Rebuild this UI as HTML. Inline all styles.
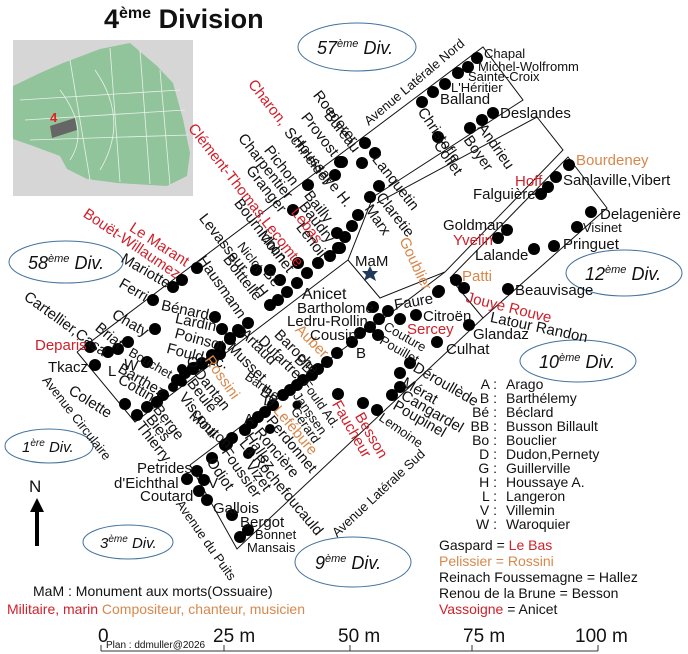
<!DOCTYPE html>
<html><head><meta charset="utf-8"><style>
html,body{margin:0;padding:0;background:#fff}
svg{display:block}
text{font-family:"Liberation Sans",sans-serif;fill:#111}
.r{fill:#d0202a}.o{fill:#d8874a}
.n{font-size:15px}
.s{font-size:13px}
</style></head><body>
<svg width="688" height="654" viewBox="0 0 688 654" xmlns="http://www.w3.org/2000/svg">
<text x="104" y="28" style="font-size:27px;font-weight:bold">4<tspan dy="-10" style="font-size:16px">ème</tspan><tspan dy="10"> Division</tspan></text>
<rect x="13" y="40" width="180" height="156" fill="#d6d6d6"/>
<polygon points="13,86 40,73 63,63 100,49 130,43 157,66 173,83 183,119 190,153 187,176 167,186 117,183 87,179 67,169 60,156 33,146 13,139" fill="#92c49c"/>
<g stroke="#e8f2ea" stroke-width="0.8" fill="none">
<path d="M20,100 L180,90 M25,120 L185,110 M30,140 L188,135 M70,60 L90,180 M110,48 L120,182 M140,50 L150,184 M160,70 L170,185 M60,90 Q90,130 70,160 M95,70 Q130,120 100,170"/>
</g>
<polygon points="50,126 75,118 77,130 52,138" fill="#666"/>
<text x="50" y="122" style="font-size:13px;font-weight:bold;fill:#e02020">4</text>
<g fill="none" stroke="#41719c" stroke-width="1">
<ellipse cx="357" cy="47" rx="59" ry="24"/>
<ellipse cx="66" cy="262" rx="57" ry="21"/>
<ellipse cx="624" cy="273" rx="58" ry="23"/>
<ellipse cx="578" cy="361" rx="58" ry="21"/>
<ellipse cx="49" cy="446" rx="44" ry="17"/>
<ellipse cx="128" cy="542" rx="45" ry="17"/>
<ellipse cx="353" cy="562" rx="58" ry="25"/>
</g>
<g style="font-size:18px;font-style:italic">
<text x="317" y="54">57<tspan dy="-7" style="font-size:11px">ème</tspan><tspan dy="7"> Div.</tspan></text>
<text x="28" y="269">58<tspan dy="-7" style="font-size:11px">ème</tspan><tspan dy="7"> Div.</tspan></text>
<text x="585" y="280">12<tspan dy="-7" style="font-size:11px">ème</tspan><tspan dy="7"> Div.</tspan></text>
<text x="539" y="368">10<tspan dy="-7" style="font-size:11px">ème</tspan><tspan dy="7"> Div.</tspan></text>
<text x="22" y="452" style="font-size:15px">1<tspan dy="-6" style="font-size:10px">ère</tspan><tspan dy="6"> Div.</tspan></text>
<text x="100" y="548" style="font-size:15px">3<tspan dy="-6" style="font-size:10px">ème</tspan><tspan dy="6"> Div.</tspan></text>
<text x="315" y="569">9<tspan dy="-7" style="font-size:11px">ème</tspan><tspan dy="7"> Div.</tspan></text>
</g>
<g stroke="#111" stroke-width="1" fill="none">
<polyline points="77,352 483,47 523,100 373,197 348,260 380,298 445,272 563,150 537,117 377,203"/>
<polyline points="77,352 135,422 348,260"/>
<polyline points="190,465 237,549 483,318 450,278"/>
<polyline points="190,465 445,272"/>
<polyline points="450,278 568,157 607,208 483,318"/>
</g>
<g fill="#000">
<circle cx="477" cy="58" r="6"/><circle cx="468" cy="67" r="6"/><circle cx="458" cy="73" r="6"/><circle cx="445" cy="84" r="6"/><circle cx="433" cy="92" r="6"/><circle cx="422" cy="102" r="6"/>
<circle cx="493" cy="113" r="6"/><circle cx="482" cy="120" r="6"/><circle cx="470" cy="128" r="6"/><circle cx="438" cy="137" r="6"/>
<circle cx="365" cy="143" r="6"/><circle cx="375" cy="153" r="6"/><circle cx="362" cy="163" r="6"/><circle cx="342" cy="162" r="6"/><circle cx="335" cy="175" r="6"/>
<circle cx="379" cy="186" r="6"/><circle cx="370" cy="197" r="6"/><circle cx="358" cy="215" r="6"/><circle cx="352" cy="226" r="6"/><circle cx="345" cy="237" r="6"/><circle cx="338" cy="248" r="6"/>
<circle cx="308" cy="185" r="6"/><circle cx="293" cy="210" r="6"/><circle cx="340" cy="162" r="6"/><circle cx="337" cy="233" r="6"/>
<circle cx="569" cy="165" r="6"/><circle cx="556" cy="177" r="6"/><circle cx="548" cy="187" r="6"/><circle cx="541" cy="194" r="6"/>
<circle cx="591" cy="212" r="6"/><circle cx="577" cy="227" r="6"/><circle cx="554" cy="246" r="6"/><circle cx="534" cy="249" r="6"/>
<circle cx="507" cy="230" r="6"/><circle cx="498" cy="238" r="6"/><circle cx="456" cy="280" r="6"/><circle cx="464" cy="288" r="6"/><circle cx="508" cy="289" r="6"/><circle cx="469" cy="325" r="6"/><circle cx="439" cy="291" r="6"/>
<circle cx="373" cy="307" r="6"/><circle cx="388" cy="311" r="6"/><circle cx="379" cy="319" r="6"/><circle cx="400" cy="319" r="6"/><circle cx="416" cy="315" r="6"/><circle cx="370" cy="327" r="6"/><circle cx="360" cy="333" r="6"/><circle cx="378" cy="335" r="6"/><circle cx="437" cy="342" r="6"/>
<circle cx="197" cy="268" r="6"/><circle cx="182" cy="280" r="6"/><circle cx="173" cy="287" r="6"/><circle cx="153" cy="300" r="6"/>
<circle cx="215" cy="317" r="6"/><circle cx="222" cy="329" r="6"/><circle cx="230" cy="338" r="6"/><circle cx="220" cy="347" r="6"/><circle cx="238" cy="330" r="6"/><circle cx="248" cy="323" r="6"/><circle cx="212" cy="355" r="6"/><circle cx="202" cy="363" r="6"/><circle cx="193" cy="368" r="6"/><circle cx="185" cy="373" r="6"/><circle cx="177" cy="380" r="6"/>
<circle cx="256" cy="270" r="6"/><circle cx="270" cy="270" r="6"/><circle cx="280" cy="280" r="6"/><circle cx="298" cy="263" r="6"/><circle cx="307" cy="273" r="6"/><circle cx="297" cy="283" r="6"/><circle cx="287" cy="292" r="6"/><circle cx="278" cy="300" r="6"/><circle cx="270" cy="305" r="6"/><circle cx="318" cy="263" r="6"/><circle cx="330" cy="256" r="6"/><circle cx="340" cy="248" r="6"/>
<circle cx="352" cy="342" r="6"/><circle cx="337" cy="353" r="6"/><circle cx="327" cy="362" r="6"/><circle cx="318" cy="369" r="6"/><circle cx="312" cy="375" r="6"/><circle cx="303" cy="380" r="6"/><circle cx="297" cy="385" r="6"/><circle cx="290" cy="390" r="6"/><circle cx="283" cy="395" r="6"/><circle cx="273" cy="405" r="6"/><circle cx="265" cy="412" r="6"/><circle cx="258" cy="417" r="6"/><circle cx="252" cy="423" r="6"/><circle cx="245" cy="430" r="6"/><circle cx="232" cy="438" r="6"/><circle cx="225" cy="445" r="6"/><circle cx="212" cy="458" r="6"/>
<circle cx="297" cy="405" r="4.5"/><circle cx="338" cy="394" r="6"/><circle cx="363" cy="403" r="6"/><circle cx="377" cy="410" r="6"/><circle cx="392" cy="395" r="6"/><circle cx="400" cy="387" r="6"/><circle cx="400" cy="373" r="6"/><circle cx="410" cy="363" r="6"/><circle cx="438" cy="292" r="6"/>
<circle cx="270" cy="429" r="5"/><circle cx="250" cy="452" r="5"/>
<circle cx="90" cy="347" r="6"/><circle cx="95" cy="365" r="6"/><circle cx="108" cy="352" r="6"/><circle cx="118" cy="349" r="6"/><circle cx="128" cy="342" r="6"/><circle cx="147" cy="362" r="6"/><circle cx="155" cy="329" r="6"/>
<circle cx="125" cy="404" r="6"/><circle cx="137" cy="415" r="6"/><circle cx="147" cy="407" r="6"/><circle cx="157" cy="402" r="6"/><circle cx="163" cy="395" r="6"/>
<circle cx="173" cy="387" r="5"/><circle cx="182" cy="382" r="5"/><circle cx="182" cy="369" r="5"/><circle cx="193" cy="369" r="6"/><circle cx="202" cy="364" r="6"/><circle cx="212" cy="359" r="6"/><circle cx="220" cy="354" r="6"/><circle cx="230" cy="339" r="6"/><circle cx="240" cy="332" r="6"/>
<circle cx="187" cy="479" r="6"/><circle cx="197" cy="471" r="6"/><circle cx="204" cy="480" r="6"/><circle cx="199" cy="491" r="6"/><circle cx="207" cy="500" r="6"/><circle cx="211" cy="457" r="4.5"/><circle cx="227" cy="444" r="6"/><circle cx="248" cy="454" r="5"/>
<circle cx="232" cy="515" r="6"/><circle cx="240" cy="537" r="6"/><circle cx="248" cy="530" r="6"/>
</g>
<polygon points="370,266 372.5,271 378,271 374,275 376,281 370,277.5 364,281 366,275 362,271 367.5,271" fill="#1f3a5a"/>
<g class="n">
<text class="r" transform="translate(257 77) rotate(52)" dy=".8em">Charon,</text>
<text transform="translate(293 125) rotate(52)" dy=".8em">Schneider</text>
<text transform="translate(322 88) rotate(52)" dy=".8em">Roederer</text>
<text transform="translate(333 108) rotate(52)" dy=".8em">Bureau</text>
<text transform="translate(310 110) rotate(52)" dy=".8em">Provost</text>
<text transform="translate(302 133) rotate(52)" dy=".8em">Houssaye H.</text>
<text transform="translate(273 143) rotate(52)" dy=".8em">Pichon</text>
<text transform="translate(247 131) rotate(52)" dy=".8em">Charpentier</text>
<text class="r" transform="translate(197 121) rotate(52)" dy=".8em">Clément-Thomas,Lecomte</text>
<text transform="translate(255 163) rotate(52)" dy=".8em">Granger</text>
<text transform="translate(313 188) rotate(52)" dy=".8em">Bailly</text>
<text transform="translate(308 199) rotate(52)" dy=".8em">Baudry</text>
<text class="r" transform="translate(300 205) rotate(52)" dy=".8em">Lebas</text>
<text transform="translate(305 220) rotate(52)" dy=".8em">Lenoir</text>
<text transform="translate(243 196) rotate(52)" dy=".8em">Bournichon</text>
<text transform="translate(267 228) rotate(52)" dy=".8em">Molinet</text>
<text class="s" transform="translate(245 240) rotate(52)" dy=".8em">Niclot</text>
<text transform="translate(208 211) rotate(52)" dy=".8em">Levasseur</text>
<text transform="translate(232 252) rotate(52)" dy=".8em">Boittelle</text>
<text transform="translate(272 266) rotate(52)" dy=".8em">Bé</text>
<text transform="translate(264 282) rotate(52)" dy=".8em">H</text>
<text transform="translate(207 253) rotate(55)" dy=".8em">Hausmann</text>
<text class="r" transform="translate(135 220) rotate(33)" dy=".8em">Le Marant</text>
<text class="r" transform="translate(89 206) rotate(34)" dy=".8em">Bouët-Willaumez</text>
<text transform="translate(126 251) rotate(30)" dy=".8em">Mariotte</text>
<text transform="translate(124 276) rotate(30)" dy=".8em">Ferri</text>
<text transform="translate(30 289) rotate(36)" dy=".8em">Cartellier,Casa</text>
<text transform="translate(117 307) rotate(30)" dy=".8em">Chaty</text>
<text transform="translate(102 320) rotate(40)" dy=".8em">Briat</text>
<text transform="translate(163 298) rotate(12)" dy=".8em">Bénard</text>
<text transform="translate(177 311) rotate(12)" dy=".8em">Lardin</text>
<text transform="translate(177 326) rotate(15)" dy=".8em">Poinsot</text>
<text transform="translate(169 341) rotate(15)" dy=".8em">Fould Ac.</text>
<text x="187" y="367">G</text>
<text class="s" transform="translate(133 346) rotate(30)" dy=".8em">Bouchet</text>
<text transform="translate(125 357) rotate(10)" dy=".8em">W</text>
<text transform="translate(123 361) rotate(30)" dy=".8em">Barthez</text>
<text transform="translate(123 372) rotate(30)" dy=".8em">Cottin</text>
<text transform="translate(74 383) rotate(32)" dy=".8em">Colette</text>
<text transform="translate(162 402) rotate(52)" dy=".8em">Berge</text>
<text transform="translate(155 412) rotate(52)" dy=".8em">Bies</text>
<text transform="translate(145 419) rotate(52)" dy=".8em">Thierry</text>
<text class="s" transform="translate(50 374) rotate(52)" dy=".8em">Avenue Circulaire</text>
<text class="o" transform="translate(214 353) rotate(55)" dy=".8em">Rossini</text>
<text transform="translate(203 366) rotate(52)" dy=".8em">Dantan</text>
<text transform="translate(196 376) rotate(52)" dy=".8em">Beulé</text>
<text transform="translate(188 390) rotate(52)" dy=".8em">Visconti</text>
<text transform="translate(196 408) rotate(40)" dy=".8em">Mouton</text>
<text transform="translate(248 326) rotate(45)" dy=".8em">Artaud</text>
<text transform="translate(235 340) rotate(45)" dy=".8em">Musset</text>
<text transform="translate(266 333) rotate(45)" dy=".8em">Dufartre</text>
<text transform="translate(282 327) rotate(45)" dy=".8em">Baroche</text>
<text class="o" transform="translate(303 322) rotate(45)" dy=".8em">Auber</text>
<text transform="translate(302 352) rotate(45)" dy=".8em">BB</text>
<text class="s" transform="translate(250 370) rotate(35)" dy=".8em">Barthe</text>
<text transform="translate(266 384) rotate(35)" dy=".8em">Bo</text>
<text transform="translate(265 393) rotate(10)" dy=".8em">D</text>
<text class="s" transform="translate(310 378) rotate(55)" dy=".8em">Fould Ad.</text>
<text class="s" transform="translate(301 390) rotate(55)" dy=".8em">Janssen</text>
<text class="s" transform="translate(299 405) rotate(55)" dy=".8em">Gérard</text>
<text class="o" transform="translate(282 403) rotate(50)" dy=".8em">Lefébure</text>
<text transform="translate(275 413) rotate(50)" dy=".8em">Perdonnet</text>
<text transform="translate(263 425) rotate(50)" dy=".8em">Roncière</text>
<text transform="translate(254 430) rotate(55)" dy=".8em">Hallez</text>
<text x="244" y="424">A</text>
<text transform="translate(248 436) rotate(50)" dy=".8em">La Rochefoucauld</text>
<text transform="translate(255 458) rotate(55)" dy=".8em">Vizet</text>
<text transform="translate(231 445) rotate(55)" dy=".8em">Foussier</text>
<text transform="translate(216 455) rotate(55)" dy=".8em">Odiot</text>
<text class="s" transform="translate(184 498) rotate(55)" dy=".8em">Avenue du Puits</text>
<text class="s" transform="translate(330 530) rotate(-43)" dy=".8em">Avenue Latérale Sud</text>
<text class="s" transform="translate(362 118) rotate(-40)" dy=".8em">Avenue Latérale Nord</text>
<text class="r" transform="translate(342 398) rotate(60)" dy=".8em">Faucheur</text>
<text class="r" transform="translate(365 410) rotate(60)" dy=".8em">Besson</text>
<text class="s" transform="translate(384 411) rotate(35)" dy=".8em">Lemoine</text>
<text transform="translate(398 398) rotate(30)" dy=".8em">Poupinel</text>
<text transform="translate(406 388) rotate(30)" dy=".8em">Cangardel</text>
<text transform="translate(407 375) rotate(30)" dy=".8em">Mérat</text>
<text transform="translate(418 360) rotate(30)" dy=".8em">Déroullède</text>
<text class="s" transform="translate(388 320) rotate(30)" dy=".8em">Couture</text>
<text class="s" transform="translate(384 334) rotate(30)" dy=".8em">Pouillet</text>
<text transform="translate(393 298) rotate(-10)" dy=".8em">Faure</text>
<text transform="translate(427 105) rotate(55)" dy=".8em">Christofle</text>
<text transform="translate(443 138) rotate(55)" dy=".8em">Collet</text>
<text transform="translate(473 133) rotate(55)" dy=".8em">Boyer</text>
<text transform="translate(487 121) rotate(55)" dy=".8em">Andrieu</text>
<text transform="translate(381 152) rotate(52)" dy=".8em">Lanquetin</text>
<text transform="translate(385 190) rotate(52)" dy=".8em">Claretie</text>
<text transform="translate(374 202) rotate(55)" dy=".8em">Marx</text>
<text class="o" transform="translate(410 235) rotate(65)" dy=".8em">Goublier</text>
<text class="r" transform="translate(468 290) rotate(14)" dy=".8em">Jouye Rouve</text>
<text transform="translate(492 310) rotate(12)" dy=".8em">Latour Randon</text>
</g>
<g class="n">
<text x="302" y="299" style="font-size:16px">Anicet</text>
<text x="297" y="313">Bartholomé</text>
<text x="287" y="326">Ledru-Rollin</text>
<text x="310" y="340">Cousin</text>
<text x="356" y="358">B</text>
<text class="r" x="407" y="334">Sercey</text>
<text x="423" y="321">Citroën</text>
<text x="446" y="354">Culhat</text>
<text x="473" y="339">Glandaz</text>
<text class="r" x="35" y="350">Deparis</text>
<text x="48" y="372">Tkacz</text>
<text x="108" y="376">L</text>
<text x="137" y="473">Petrides</text>
<text x="114" y="488">d'Eichthal</text>
<text x="140" y="501">Coutard</text>
<text x="208" y="488">V</text>
<text x="213" y="513">Gallois</text>
<text x="240" y="527">Bergot</text>
<text class="s" x="255" y="539">Bonnet</text>
<text class="s" x="247" y="552">Mansais</text>
<text class="s" x="484" y="58">Chapal</text>
<text class="s" x="478" y="71">Michel-Wolfromm</text>
<text class="s" x="468" y="81">Sainte-Croix</text>
<text class="s" x="451" y="92">L'Héritier</text>
<text x="440" y="104">Balland</text>
<text x="500" y="118">Deslandes</text>
<text class="o" x="576" y="165">Bourdeney</text>
<text x="563" y="185">Sanlaville,Vibert</text>
<text class="r" x="515" y="186">Hoff</text>
<text x="473" y="199">Falguière</text>
<text x="600" y="219">Delagenière</text>
<text class="s" x="583" y="232">Visinet</text>
<text x="563" y="249">Pringuet</text>
<text x="443" y="230">Goldman</text>
<text class="r" x="453" y="245">Yvelin</text>
<text x="475" y="260">Lalande</text>
<text class="o" x="462" y="281">Patti</text>
<text x="515" y="295">Beauvisage</text>
<text x="355" y="266">MaM</text>
</g>
<g style="font-size:14px">
<text x="497" y="389" text-anchor="end">A :</text><text x="506" y="389">Arago</text>
<text x="497" y="403" text-anchor="end">B :</text><text x="506" y="403">Barthélemy</text>
<text x="497" y="417" text-anchor="end">Bé :</text><text x="506" y="417">Béclard</text>
<text x="497" y="431" text-anchor="end">BB :</text><text x="506" y="431">Busson Billault</text>
<text x="497" y="445" text-anchor="end">Bo :</text><text x="506" y="445">Bouclier</text>
<text x="497" y="459" text-anchor="end">D :</text><text x="506" y="459">Dudon,Pernety</text>
<text x="497" y="473" text-anchor="end">G :</text><text x="506" y="473">Guillerville</text>
<text x="497" y="487" text-anchor="end">H :</text><text x="506" y="487">Houssaye A.</text>
<text x="497" y="501" text-anchor="end">L :</text><text x="506" y="501">Langeron</text>
<text x="497" y="515" text-anchor="end">V :</text><text x="506" y="515">Villemin</text>
<text x="497" y="529" text-anchor="end">W :</text><text x="506" y="529">Waroquier</text>
<text x="439" y="550">Gaspard = <tspan class="r">Le Bas</tspan></text>
<text x="439" y="566" class="o">Pelissier = Rossini</text>
<text x="439" y="582">Reinach Foussemagne = Hallez</text>
<text x="439" y="598">Renou de la Brune = Besson</text>
<text x="439" y="614"><tspan class="r">Vassoigne</tspan> = Anicet</text>
<text x="33" y="596">MaM : Monument aux morts(Ossuaire)</text>
<text x="7" y="614" class="r">Militaire, marin <tspan class="o">Compositeur, chanteur, musicien</tspan></text>
</g>
<text x="29" y="492" style="font-size:17px">N</text>
<polygon points="37,498 30,512 35,512 35,546 39,546 39,512 44,512" fill="#000"/>
<g style="font-size:19px">
<text x="98" y="642">0</text><text x="213" y="642">25 m</text><text x="338" y="642">50 m</text><text x="463" y="642">75 m</text><text x="575" y="642">100 m</text>
</g>
<text x="106" y="648" style="font-size:10px">Plan : ddmuller@2026</text>
<g stroke="#333" stroke-width="1" fill="none">
<line x1="101" y1="651" x2="598" y2="651"/>
<line x1="101" y1="645" x2="101" y2="651"/><line x1="224" y1="645" x2="224" y2="651"/><line x1="350" y1="645" x2="350" y2="651"/><line x1="472" y1="645" x2="472" y2="651"/><line x1="598" y1="645" x2="598" y2="651"/>
</g>
</svg>
</body></html>
